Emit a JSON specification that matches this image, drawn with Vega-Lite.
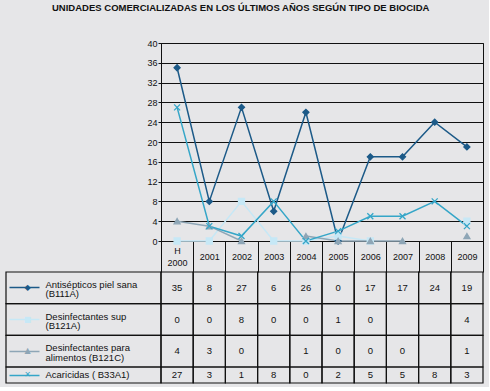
{
  "$schema": "https://vega.github.io/schema/vega-lite/v6.json",
  "background": "#e6e6e8",
  "padding": {"top": 3, "left": 5, "right": 5, "bottom": 3},
  "title": {"text": "UNIDADES COMERCIALIZADAS EN LOS ÚLTIMOS AÑOS SEGÚN TIPO DE BIOCIDA", "anchor": "middle", "fontSize": 9.5, "fontWeight": "bold", "font": "Liberation Sans", "color": "#111111", "offset": 26, "dx": -4},
  "datasets": {
    "d": [
      {"serie": "Antisépticos piel sana (B111A)", "year": "2000", "value": 35},
      {"serie": "Antisépticos piel sana (B111A)", "year": "2001", "value": 8},
      {"serie": "Antisépticos piel sana (B111A)", "year": "2002", "value": 27},
      {"serie": "Antisépticos piel sana (B111A)", "year": "2003", "value": 6},
      {"serie": "Antisépticos piel sana (B111A)", "year": "2004", "value": 26},
      {"serie": "Antisépticos piel sana (B111A)", "year": "2005", "value": 0},
      {"serie": "Antisépticos piel sana (B111A)", "year": "2006", "value": 17},
      {"serie": "Antisépticos piel sana (B111A)", "year": "2007", "value": 17},
      {"serie": "Antisépticos piel sana (B111A)", "year": "2008", "value": 24},
      {"serie": "Antisépticos piel sana (B111A)", "year": "2009", "value": 19},
      {"serie": "Desinfectantes sup (B121A)", "year": "2000", "value": 0},
      {"serie": "Desinfectantes sup (B121A)", "year": "2001", "value": 0},
      {"serie": "Desinfectantes sup (B121A)", "year": "2002", "value": 8},
      {"serie": "Desinfectantes sup (B121A)", "year": "2003", "value": 0},
      {"serie": "Desinfectantes sup (B121A)", "year": "2004", "value": 0},
      {"serie": "Desinfectantes sup (B121A)", "year": "2005", "value": 1},
      {"serie": "Desinfectantes sup (B121A)", "year": "2006", "value": 0},
      {"serie": "Desinfectantes sup (B121A)", "year": "2007", "value": null},
      {"serie": "Desinfectantes sup (B121A)", "year": "2008", "value": null},
      {"serie": "Desinfectantes sup (B121A)", "year": "2009", "value": 4},
      {"serie": "Desinfectantes para alimentos (B121C)", "year": "2000", "value": 4},
      {"serie": "Desinfectantes para alimentos (B121C)", "year": "2001", "value": 3},
      {"serie": "Desinfectantes para alimentos (B121C)", "year": "2002", "value": 0},
      {"serie": "Desinfectantes para alimentos (B121C)", "year": "2003", "value": null},
      {"serie": "Desinfectantes para alimentos (B121C)", "year": "2004", "value": 1},
      {"serie": "Desinfectantes para alimentos (B121C)", "year": "2005", "value": 0},
      {"serie": "Desinfectantes para alimentos (B121C)", "year": "2006", "value": 0},
      {"serie": "Desinfectantes para alimentos (B121C)", "year": "2007", "value": 0},
      {"serie": "Desinfectantes para alimentos (B121C)", "year": "2008", "value": null},
      {"serie": "Desinfectantes para alimentos (B121C)", "year": "2009", "value": 1},
      {"serie": "Acaricidas ( B33A1)", "year": "2000", "value": 27},
      {"serie": "Acaricidas ( B33A1)", "year": "2001", "value": 3},
      {"serie": "Acaricidas ( B33A1)", "year": "2002", "value": 1},
      {"serie": "Acaricidas ( B33A1)", "year": "2003", "value": 8},
      {"serie": "Acaricidas ( B33A1)", "year": "2004", "value": 0},
      {"serie": "Acaricidas ( B33A1)", "year": "2005", "value": 2},
      {"serie": "Acaricidas ( B33A1)", "year": "2006", "value": 5},
      {"serie": "Acaricidas ( B33A1)", "year": "2007", "value": 5},
      {"serie": "Acaricidas ( B33A1)", "year": "2008", "value": 8},
      {"serie": "Acaricidas ( B33A1)", "year": "2009", "value": 3}
    ]
  },
  "columns": 2,
  "spacing": 0,
  "bounds": "flush",
  "align": "each",
  "concat": [
    {"width": 155, "height": 198, "data": {"values": [{}]}, "mark": {"type": "point", "opacity": 0}},
    {
      "width": 322,
      "height": 198,
      "data": {"name": "d"},
      "view": {"stroke": "#111111", "strokeWidth": 1},
      "encoding": {
        "x": {
          "field": "year", "type": "ordinal",
          "scale": {"type": "band", "domain": ["2000","2001","2002","2003","2004","2005","2006","2007","2008","2009"], "paddingInner": 0, "paddingOuter": 0},
          "axis": {"title": null, "orient": "bottom", "tickBand": "extent", "tickSize": 31, "tickColor": "#111111", "tickWidth": 1, "domainColor": "#111111", "domainWidth": 1, "labelAngle": 0, "labelBaseline": "middle", "labelPadding": {"condition": {"test": "datum.value == '2000'", "value": -21.5}, "value": -15.5}, "labelFontSize": 9, "labelColor": "#111111", "labelLineHeight": 12, "labelOverlap": false, "labelExpr": "datum.value == '2000' ? ['H', '2000'] : datum.value", "grid": false}
        },
        "y": {
          "field": "value", "type": "quantitative",
          "scale": {"domain": [0, 40], "nice": false},
          "axis": {"title": null, "values": [0, 4, 8, 12, 16, 20, 24, 28, 32, 36, 40], "grid": true, "gridColor": "#111111", "gridWidth": 1, "gridOpacity": 1, "tickSize": 3, "tickColor": "#111111", "domainColor": "#111111", "labelFontSize": 9, "labelColor": "#111111", "labelPadding": 1}
        }
      },
      "layer": [
        {
          "mark": {"type": "line", "strokeWidth": 1.5, "invalid": "break-paths-filter-domains"},
          "encoding": {
            "color": {"field": "serie", "type": "nominal", "scale": {"domain": ["Antisépticos piel sana (B111A)", "Desinfectantes sup (B121A)", "Desinfectantes para alimentos (B121C)", "Acaricidas ( B33A1)"], "range": ["#1c5a88", "#c6e8f6", "#8ea6b6", "#35a6c8"]}, "legend": null}
          }
        },
        {
          "mark": {"type": "point", "filled": true, "size": 36, "strokeWidth": 1.3, "opacity": 1},
          "encoding": {
            "fill": {"field": "serie", "type": "nominal", "scale": {"domain": ["Antisépticos piel sana (B111A)", "Desinfectantes sup (B121A)", "Desinfectantes para alimentos (B121C)", "Acaricidas ( B33A1)"], "range": ["#1c5a88", "#c6e8f6", "#8ea6b6", "#35a6c8"]}, "legend": null},
            "stroke": {"field": "serie", "type": "nominal", "scale": {"domain": ["Antisépticos piel sana (B111A)", "Desinfectantes sup (B121A)", "Desinfectantes para alimentos (B121C)", "Acaricidas ( B33A1)"], "range": ["#1c5a88", "#c6e8f6", "#8ea6b6", "#35a6c8"]}, "legend": null},
            "shape": {"field": "serie", "type": "nominal", "scale": {"domain": ["Antisépticos piel sana (B111A)", "Desinfectantes sup (B121A)", "Desinfectantes para alimentos (B121C)", "Acaricidas ( B33A1)"], "range": ["diamond", "square", "triangle-up", "M-1,-1L1,1M-1,1L1,-1"]}, "legend": null}
          }
        }
      ]
    },
    {"width": 155, "height": 31, "data": {"values": [{}]}, "mark": {"type": "point", "opacity": 0}},
    {"width": 322, "height": 31, "data": {"values": [{}]}, "mark": {"type": "point", "opacity": 0}},
    {
      "width": 155,
      "height": 95,
      "data": {"name": "d"},
      "transform": [{"filter": "datum.year == '2000'"}, {"filter": {"field": "serie", "oneOf": ["Antisépticos piel sana (B111A)", "Desinfectantes sup (B121A)", "Desinfectantes para alimentos (B121C)"]}}],
      "encoding": {
        "x": {"field": "year", "type": "ordinal", "scale": {"domain": ["2000"], "paddingInner": 0, "paddingOuter": 0}, "axis": null}
      },
      "layer": [
        {
          "mark": {"type": "rect", "fill": "transparent", "stroke": "#111111", "strokeWidth": 1.2},
          "encoding": {
            "y": {"field": "serie", "type": "nominal", "scale": {"domain": ["Antisépticos piel sana (B111A)", "Desinfectantes sup (B121A)", "Desinfectantes para alimentos (B121C)"], "paddingInner": 0, "paddingOuter": 0},
              "axis": {"orient": "left", "offset": -33, "title": null, "domain": false, "grid": false, "ticks": true, "tickSize": 30, "tickWidth": 1.5,
                "tickColor": {"condition": [{"test": "datum.value == 'Antisépticos piel sana (B111A)'", "value": "#1c5a88"}, {"test": "datum.value == 'Desinfectantes sup (B121A)'", "value": "#c6e8f6"}], "value": "#8ea6b6"},
                "labelAlign": "left", "labelBaseline": "alphabetic", "labelPadding": -36, "labelFontSize": 9.5, "labelColor": "#111111", "labelLineHeight": 9.5, "labelLimit": 300, "labelOverlap": false,
                "labelExpr": "datum.value == 'Antisépticos piel sana (B111A)' ? ['Antisépticos piel sana', '(B111A)'] : datum.value == 'Desinfectantes sup (B121A)' ? ['Desinfectantes sup', '(B121A)'] : ['Desinfectantes para', 'alimentos (B121C)']"}
            }
          }
        },
        {
          "mark": {"type": "rect", "fill": "transparent", "strokeOpacity": 0},
          "encoding": {
            "y": {"field": "serie", "type": "nominal", "scale": {"domain": ["Antisépticos piel sana (B111A)", "Desinfectantes sup (B121A)", "Desinfectantes para alimentos (B121C)"], "paddingInner": 0, "paddingOuter": 0},
              "axis": {"orient": "left", "offset": -21, "title": null, "domain": false, "grid": false, "ticks": false, "labelAlign": "center", "labelBaseline": "middle", "labelPadding": 0, "labelFontSize": 8, "labelFont": "DejaVu Sans", "labelOverlap": false,
                "labelColor": {"condition": [{"test": "datum.value == 'Antisépticos piel sana (B111A)'", "value": "#1c5a88"}, {"test": "datum.value == 'Desinfectantes sup (B121A)'", "value": "#c6e8f6"}], "value": "#8ea6b6"},
                "labelExpr": "datum.value == 'Antisépticos piel sana (B111A)' ? '◆' : datum.value == 'Desinfectantes sup (B121A)' ? '■' : '▲'"}
            }
          }
        }
      ],
      "resolve": {"axis": {"y": "independent"}}
    },
    {
      "width": 322,
      "height": 95,
      "data": {"name": "d"},
      "transform": [{"filter": {"field": "serie", "oneOf": ["Antisépticos piel sana (B111A)", "Desinfectantes sup (B121A)", "Desinfectantes para alimentos (B121C)"]}}],
      "encoding": {
        "x": {"field": "year", "type": "ordinal", "scale": {"domain": ["2000","2001","2002","2003","2004","2005","2006","2007","2008","2009"], "paddingInner": 0, "paddingOuter": 0}, "axis": null},
        "y": {"field": "serie", "type": "nominal", "scale": {"domain": ["Antisépticos piel sana (B111A)", "Desinfectantes sup (B121A)", "Desinfectantes para alimentos (B121C)"], "paddingInner": 0, "paddingOuter": 0}, "axis": null}
      },
      "layer": [
        {"mark": {"type": "rect", "fill": "transparent", "stroke": "#111111", "strokeWidth": 1.2}},
        {"transform": [{"filter": "isValid(datum.value)"}], "mark": {"type": "text", "fontSize": 9.5, "color": "#111111"}, "encoding": {"text": {"field": "value", "type": "quantitative"}}}
      ]
    },
    {
      "width": 155,
      "height": 16,
      "data": {"name": "d"},
      "transform": [{"filter": "datum.year == '2000'"}, {"filter": {"field": "serie", "oneOf": ["Acaricidas ( B33A1)"]}}],
      "encoding": {
        "x": {"field": "year", "type": "ordinal", "scale": {"domain": ["2000"], "paddingInner": 0, "paddingOuter": 0}, "axis": null}
      },
      "layer": [
        {
          "mark": {"type": "rect", "fill": "transparent", "stroke": "#111111", "strokeWidth": 1.2},
          "encoding": {
            "y": {"field": "serie", "type": "nominal", "scale": {"domain": ["Acaricidas ( B33A1)"], "paddingInner": 0, "paddingOuter": 0},
              "axis": {"orient": "left", "offset": -33, "title": null, "domain": false, "grid": false, "ticks": true, "tickSize": 30, "tickWidth": 1.5, "tickColor": "#35a6c8",
                "labelAlign": "left", "labelBaseline": "middle", "labelPadding": -36, "labelFontSize": 9.5, "labelColor": "#111111", "labelLimit": 300, "labelOverlap": false}
            }
          }
        },
        {
          "mark": {"type": "rect", "fill": "transparent", "strokeOpacity": 0},
          "encoding": {
            "y": {"field": "serie", "type": "nominal", "scale": {"domain": ["Acaricidas ( B33A1)"], "paddingInner": 0, "paddingOuter": 0},
              "axis": {"orient": "left", "offset": -21, "title": null, "domain": false, "grid": false, "ticks": false, "labelAlign": "center", "labelBaseline": "middle", "labelPadding": 0, "labelFontSize": 8, "labelFont": "DejaVu Sans", "labelOverlap": false, "labelColor": "#35a6c8", "labelExpr": "'✕'"}
            }
          }
        }
      ],
      "resolve": {"axis": {"y": "independent"}}
    },
    {
      "width": 322,
      "height": 16,
      "data": {"name": "d"},
      "transform": [{"filter": {"field": "serie", "oneOf": ["Acaricidas ( B33A1)"]}}],
      "encoding": {
        "x": {"field": "year", "type": "ordinal", "scale": {"domain": ["2000","2001","2002","2003","2004","2005","2006","2007","2008","2009"], "paddingInner": 0, "paddingOuter": 0}, "axis": null},
        "y": {"field": "serie", "type": "nominal", "scale": {"domain": ["Acaricidas ( B33A1)"], "paddingInner": 0, "paddingOuter": 0}, "axis": null}
      },
      "layer": [
        {"mark": {"type": "rect", "fill": "transparent", "stroke": "#111111", "strokeWidth": 1.2}},
        {"transform": [{"filter": "isValid(datum.value)"}], "mark": {"type": "text", "fontSize": 9.5, "color": "#111111"}, "encoding": {"text": {"field": "value", "type": "quantitative"}}}
      ]
    }
  ],
  "config": {
    "view": {"stroke": null},
    "font": "Liberation Sans",
    "axis": {"labelFont": "Liberation Sans"},
    "text": {"font": "Liberation Sans"}
  }
}
